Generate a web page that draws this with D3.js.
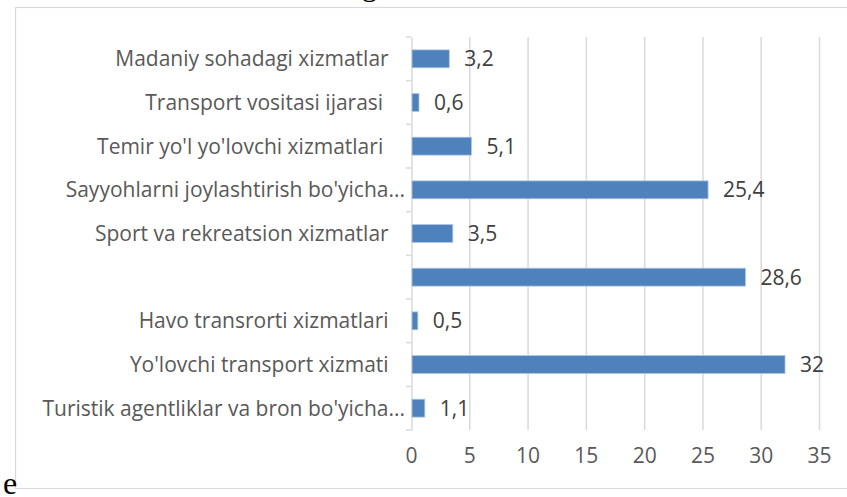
<!DOCTYPE html>
<html><head><meta charset="utf-8">
<script src="https://cdn.jsdelivr.net/npm/d3@7"></script>
<style>
body{margin:0;background:#fff;overflow:hidden}
svg{display:block}
text{white-space:pre}
</style></head>
<body>
<script>
const categories = [
  "Madaniy sohadagi xizmatlar   ",
  "Transport vositasi ijarasi    ",
  "Temir yo'l yo'lovchi xizmatlari    ",
  "Sayyohlarni joylashtirish bo'yicha...",
  "Sport va rekreatsion xizmatlar   ",
  "",
  "Havo transrorti xizmatlari   ",
  "Yo'lovchi transport xizmati   ",
  "Turistik agentliklar va bron bo'yicha..."
];
const values = [3.2, 0.6, 5.1, 25.4, 3.5, 28.6, 0.5, 32, 1.1];
const valueLabels = ["3,2", "0,6", "5,1", "25,4", "3,5", "28,6", "0,5", "32", "1,1"];
const xTicks = [0, 5, 10, 15, 20, 25, 30, 35];

(function () {
const W = 847, H = 497;
const svg = d3.select("body").append("svg").attr("width", W).attr("height", H);

// outer frame of chart image
svg.append("rect").attr("x", 15.5).attr("y", 7.5).attr("width", 900).attr("height", 481)
  .attr("fill", "#fff").attr("stroke", "#d9d9d9").attr("stroke-width", 1.2);

// fragments of surrounding document text
svg.append("text").attr("x", 362).attr("y", -4).attr("font-family", "Liberation Serif")
  .attr("font-size", 30).attr("fill", "#000").text("g");
svg.append("text").attr("x", 3).attr("y", 494).attr("font-family", "Liberation Serif")
  .attr("font-size", 32).attr("fill", "#000").text("e");

const pl = 411, pr = 819, pt = 37, pb = 430;
const x = d3.scaleLinear().domain([0, 35]).range([pl, pr]);
const y = d3.scaleBand().domain(d3.range(categories.length)).range([pt, pb]).paddingInner(0.59).paddingOuter(0.295);
const yb = d3.scaleBand().domain(d3.range(categories.length)).range([pt, pb]);

const font = "'Open Sans', 'Noto Sans', sans-serif";
const fs = 21;

// gridlines
svg.append("g").selectAll("line").data(xTicks.slice(1)).join("line")
  .attr("x1", d => x(d) + 0.5).attr("x2", d => x(d) + 0.5)
  .attr("y1", pt).attr("y2", pb)
  .attr("stroke", "#d9d9d9").attr("stroke-width", 1.5);

// y axis line and ticks
const yAxis = d3.axisLeft(yb).tickSize(0).tickFormat("");
const ga = svg.append("g").attr("transform", `translate(${pl + 0.5},0)`).call(yAxis);
ga.select(".domain").attr("stroke", "#d9d9d9").attr("stroke-width", 1.5);
const bounds = d3.range(categories.length + 1).map(i => pt + i * yb.step());
svg.append("g").selectAll("line").data(bounds).join("line")
  .attr("x1", pl - 5).attr("x2", pl + 0.5)
  .attr("y1", d => d).attr("y2", d => d)
  .attr("stroke", "#d9d9d9").attr("stroke-width", 1.5);

// bars
svg.append("g").selectAll("rect").data(values).join("rect")
  .attr("x", x(0) + 1).attr("y", (d, i) => y(i))
  .attr("width", d => x(d) - x(0)).attr("height", y.bandwidth())
  .attr("fill", "#4f81bd").attr("stroke", "#aec6e4").attr("stroke-width", 0.8);

// category labels
svg.append("g").selectAll("text").data(categories).join("text")
  .attr("x", pl - 6).attr("y", (d, i) => yb(i) + yb.bandwidth() / 2)
  .attr("dy", "0.36em").attr("text-anchor", "end")
  .attr("font-family", font).attr("font-size", fs).attr("fill", "#595959")
  .text(d => d);

// value labels
svg.append("g").selectAll("text").data(values).join("text")
  .attr("x", d => x(d) + 16).attr("y", (d, i) => yb(i) + yb.bandwidth() / 2)
  .attr("dy", "0.36em").attr("text-anchor", "start")
  .attr("font-family", font).attr("font-size", fs).attr("fill", "#404040")
  .text((d, i) => valueLabels[i]);

// x axis tick labels
const xAxis = d3.axisBottom(x).tickValues(xTicks).tickSize(0).tickPadding(0).tickFormat(d3.format("d"));
const gx = svg.append("g").attr("transform", `translate(0,${pb + 25})`).call(xAxis);
gx.select(".domain").remove();
gx.selectAll("text").attr("font-family", font).attr("font-size", fs).attr("fill", "#595959").attr("dy", "0.36em").attr("y", 0);
})();
</script>
</body></html>
